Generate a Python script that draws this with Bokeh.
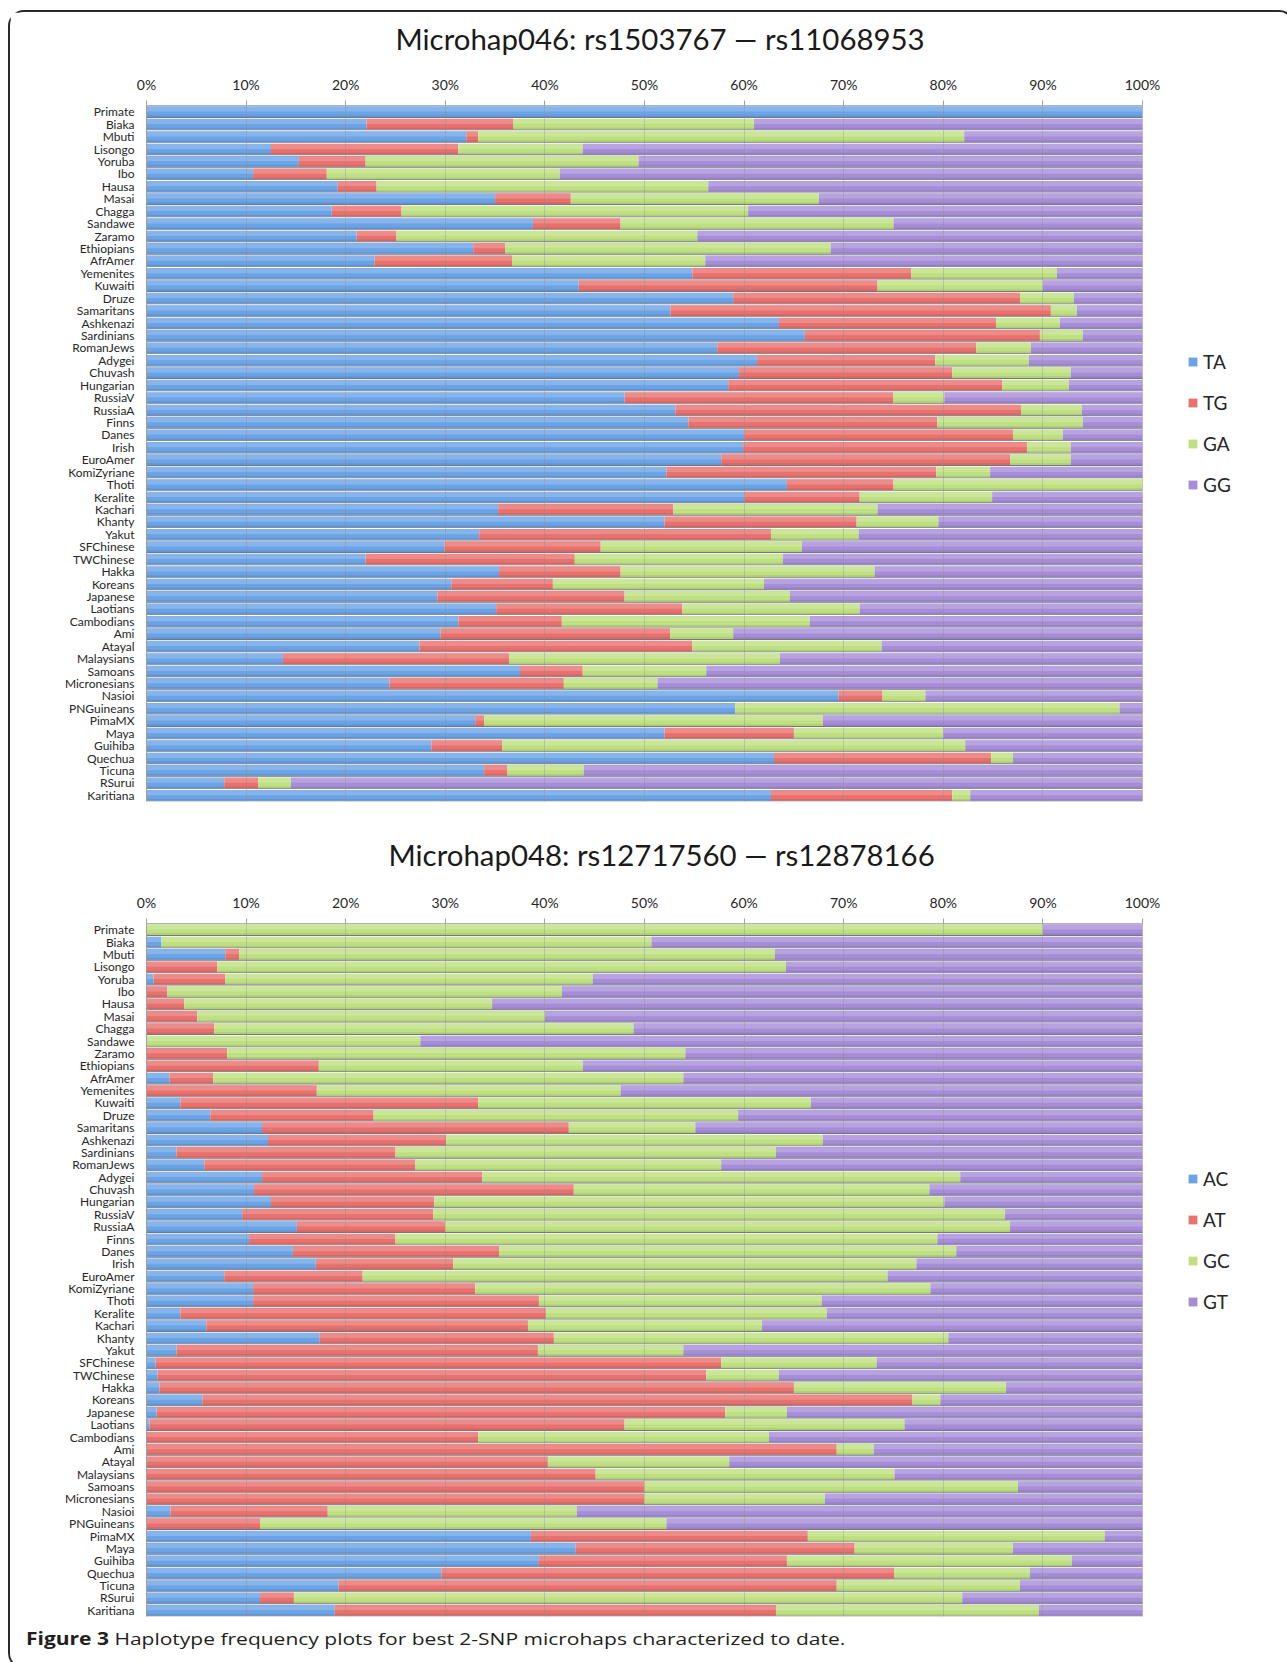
from bokeh.plotting import figure
from bokeh.models import (ColumnDataSource, FactorRange, Range1d, FixedTicker, LinearAxis,
                          PrintfTickFormatter, Legend, LegendItem, Div)
from bokeh.layouts import column
from bokeh.transform import dodge
from bokeh.embed import file_html
from bokeh.resources import INLINE

# ---------------- data ----------------
populations = ["Primate", "Biaka", "Mbuti", "Lisongo", "Yoruba", "Ibo", "Hausa", "Masai",
               "Chagga", "Sandawe", "Zaramo", "Ethiopians", "AfrAmer", "Yemenites", "Kuwaiti",
               "Druze", "Samaritans", "Ashkenazi", "Sardinians", "RomanJews", "Adygei",
               "Chuvash", "Hungarian", "RussiaV", "RussiaA", "Finns", "Danes", "Irish",
               "EuroAmer", "KomiZyriane", "Thoti", "Keralite", "Kachari", "Khanty", "Yakut",
               "SFChinese", "TWChinese", "Hakka", "Koreans", "Japanese", "Laotians",
               "Cambodians", "Ami", "Atayal", "Malaysians", "Samoans", "Micronesians",
               "Nasioi", "PNGuineans", "PimaMX", "Maya", "Guihiba", "Quechua", "Ticuna",
               "RSurui", "Karitiana"]

mh046_title = "Microhap046: rs1503767 \u2014 rs11068953"
mh046_haps = ["TA", "TG", "GA", "GG"]
mh046_TA = [100, 22.1, 32.1, 12.5, 15.3, 10.7, 19.2, 35.0, 18.6, 38.8, 21.1, 32.8, 22.9, 54.8,
            43.4, 58.9, 52.6, 63.5, 66.1, 57.3, 61.3, 59.5, 58.4, 48.0, 53.1, 54.4, 60.0, 59.9,
            57.7, 52.2, 64.3, 60.0, 35.3, 52.0, 33.4, 29.9, 22.0, 35.4, 30.6, 29.2, 35.1, 31.3,
            29.5, 27.4, 13.7, 37.5, 24.4, 69.5, 59.1, 33.0, 52.0, 28.6, 63.0, 33.9, 7.8, 62.7]
mh046_TG = [0, 14.7, 1.2, 18.8, 6.7, 7.4, 3.9, 7.6, 7.0, 8.8, 4.0, 3.2, 13.8, 22.0,
            30.0, 28.8, 38.2, 21.8, 23.6, 26.0, 17.9, 21.4, 27.5, 27.0, 34.7, 25.0, 27.0, 28.5,
            29.0, 27.1, 10.7, 11.6, 17.6, 19.3, 29.3, 15.7, 21.0, 12.2, 10.2, 18.8, 18.7, 10.4,
            23.1, 27.4, 22.7, 6.3, 17.5, 4.4, 0, 0.9, 13.0, 7.1, 21.8, 2.3, 3.4, 18.2]
mh046_GA = [0, 24.2, 48.8, 12.5, 27.4, 23.4, 33.3, 24.9, 34.8, 27.4, 30.2, 32.7, 19.4, 14.6,
            16.6, 5.4, 2.6, 6.4, 4.3, 5.5, 9.4, 11.9, 6.7, 5.1, 6.1, 14.6, 5.0, 4.4,
            6.1, 5.4, 25.0, 13.3, 20.5, 8.2, 8.8, 20.2, 20.9, 25.5, 21.2, 16.6, 17.8, 24.9,
            6.3, 19.0, 27.2, 12.4, 9.4, 4.3, 38.6, 34.0, 15.0, 46.5, 2.2, 7.7, 3.3, 1.8]
mh046_GG = [0, 39.0, 17.9, 56.2, 50.6, 58.5, 43.6, 32.5, 39.6, 25.0, 44.7, 31.3, 43.9, 8.6,
            10.0, 6.9, 6.6, 8.3, 6.0, 11.2, 11.4, 7.2, 7.4, 19.9, 6.1, 6.0, 8.0, 7.2,
            7.2, 15.3, 0, 15.1, 26.6, 20.5, 28.5, 34.2, 36.1, 26.9, 38.0, 35.4, 28.4, 33.4,
            41.1, 26.2, 36.4, 43.8, 48.7, 21.8, 2.3, 32.1, 20.0, 17.8, 13.0, 56.1, 85.5, 17.3]

mh048_title = "Microhap048: rs12717560 \u2014 rs12878166"
mh048_haps = ["AC", "AT", "GC", "GT"]
mh048_AC = [0, 1.5, 7.9, 0, 0.7, 0, 0, 0, 0, 0, 0, 0, 2.3, 0,
            3.4, 6.4, 11.6, 12.2, 3.0, 5.8, 11.6, 10.8, 12.5, 9.6, 15.1, 10.3, 14.7, 17.0,
            7.8, 10.7, 10.7, 3.4, 6.0, 17.4, 3.0, 0.9, 1.1, 1.3, 5.6, 1.0, 0.3, 0,
            0, 0, 0, 0, 0, 2.4, 0, 38.6, 43.1, 39.4, 29.6, 19.3, 11.4, 18.9]
mh048_AT = [0, 0, 1.4, 7.1, 7.2, 2.1, 3.8, 5.1, 6.8, 0, 8.1, 17.3, 4.4, 17.1,
            29.9, 16.4, 30.8, 17.9, 22.0, 21.2, 22.1, 32.1, 16.4, 19.2, 14.9, 14.7, 20.7, 13.8,
            13.9, 22.3, 28.7, 36.7, 32.3, 23.5, 36.3, 56.8, 55.1, 63.7, 71.3, 57.1, 47.7, 33.3,
            69.3, 40.3, 45.1, 50.0, 50.0, 15.8, 11.4, 27.8, 28.0, 24.9, 45.5, 50.0, 3.4, 44.3]
mh048_GC = [90.0, 49.2, 53.8, 57.1, 36.9, 39.6, 30.9, 34.9, 42.1, 27.5, 46.0, 26.5, 47.2, 30.5,
            33.4, 36.6, 12.7, 37.8, 38.2, 30.7, 48.0, 35.7, 51.2, 57.4, 56.7, 54.4, 45.9, 46.5,
            52.7, 45.7, 28.4, 28.2, 23.5, 39.6, 14.6, 15.6, 7.3, 21.3, 2.8, 6.2, 28.1, 29.2,
            3.7, 18.2, 30.0, 37.5, 18.1, 25.0, 40.8, 29.8, 15.9, 28.6, 13.6, 18.4, 67.1, 26.4]
mh048_GT = [10.0, 49.3, 36.9, 35.8, 55.2, 58.3, 65.3, 60.0, 51.1, 72.5, 45.9, 56.2, 46.1, 52.4,
            33.3, 40.6, 44.9, 32.1, 36.8, 42.3, 18.3, 21.4, 19.9, 13.8, 13.3, 20.6, 18.7, 22.7,
            25.6, 21.3, 32.2, 31.7, 38.2, 19.5, 46.1, 26.7, 36.5, 13.7, 20.3, 35.7, 23.9, 37.5,
            27.0, 41.5, 24.9, 12.5, 31.9, 56.8, 47.8, 3.8, 13.0, 7.1, 11.3, 12.3, 18.1, 10.4]

percent_ticks = [0, 10, 20, 30, 40, 50, 60, 70, 80, 90, 100]
hap_colors = ["#6AA3E6", "#E8706D", "#BEE080", "#A68DD8"]
caption_bold = "Figure 3"
caption_text = "Haplotype frequency plots for best 2-SNP microhaps characterized to date."

# ---------------- layout constants ----------------
FONT = "Lato"
W = 1273
FRAME_L = 136          # pixel position of 0 %
FRAME_R = 1132         # pixel position of 100 %
X_END = 100.0 * (W - FRAME_L) / (FRAME_R - FRAME_L)


def make_panel(title, haps, series, height, top_border, frame_h, title_offset, gap,
               legend_loc):
    data = {"pop": populations}
    for h, s in zip(haps, series):
        data[h] = s
    data["total"] = [sum(v) for v in zip(*series)]
    src = ColumnDataSource(data)

    p = figure(width=W, height=height,
               y_range=FactorRange(factors=populations[::-1], range_padding=0),
               x_range=Range1d(0, X_END), x_axis_location="above",
               output_backend="svg", toolbar_location=None,
               min_border_left=FRAME_L, min_border_right=0,
               min_border_top=top_border,
               min_border_bottom=height - top_border - frame_h)
    p.outline_line_color = None
    p.background_fill_color = "white"
    p.border_fill_color = "white"

    # title
    p.title.text = title
    p.title.align = "left"
    p.title.offset = title_offset
    p.title.standoff = 0
    p.title.text_font = FONT
    p.title.text_font_size = "29.4px"
    p.title.text_font_style = "normal"
    p.title.text_color = "#1a1a1a"

    # stacked bars
    rends = p.hbar_stack(haps, y="pop", height=0.86, fill_color=hap_colors,
                         line_color=None, source=src)
    # glossy highlight / shading like the original Excel bars
    p.hbar(y=dodge("pop", 0.21, range=p.y_range), left=0, right="total", height=0.40,
           fill_color="white", fill_alpha=0.20, line_color=None, source=src)
    p.hbar(y=dodge("pop", -0.36, range=p.y_range), left=0, right="total", height=0.14,
           fill_color="black", fill_alpha=0.08, line_color=None, source=src)
    p.hbar(y=dodge("pop", -0.465, range=p.y_range), left=0, right="total", height=0.07,
           fill_color="#4a4a5a", fill_alpha=0.75, line_color=None, source=src)

    # x axis (top)
    xa = p.xaxis[0]
    xa.ticker = FixedTicker(ticks=percent_ticks)
    xa.formatter = PrintfTickFormatter(format="%d%%")
    xa.bounds = (0, 100)
    xa.axis_line_color = "#b0b0b0"
    xa.major_tick_line_color = "#a0a0a0"
    xa.major_tick_out = 5
    xa.major_tick_in = 0
    xa.minor_tick_line_color = None
    xa.major_label_standoff = 8
    xa.major_label_text_font = FONT
    xa.major_label_text_font_size = "14px"
    xa.major_label_text_color = "#262626"

    # empty spacer axis between the tick labels and the title
    spacer = LinearAxis(axis_label=" ", ticker=FixedTicker(ticks=[]),
                        axis_line_color=None, major_tick_line_color=None,
                        minor_tick_line_color=None, major_tick_out=0, major_tick_in=0,
                        minor_tick_out=0, minor_tick_in=0, major_label_text_font_size="0px",
                        major_label_standoff=0, axis_label_standoff=gap,
                        axis_label_text_font_size="1px")
    p.add_layout(spacer, "above")

    # y axis (categories)
    ya = p.yaxis[0]
    ya.axis_line_color = "#a0a0a0"
    ya.major_tick_line_color = None
    ya.minor_tick_line_color = None
    ya.major_label_standoff = 6
    ya.major_label_text_font = FONT
    ya.major_label_text_font_size = "12px"
    ya.major_label_text_color = "#262626"

    # grid
    p.ygrid.grid_line_color = None
    p.xgrid.ticker = FixedTicker(ticks=percent_ticks)
    p.xgrid.grid_line_color = "#8c8c8c"
    p.xgrid.grid_line_alpha = 0.35
    p.xgrid.level = "overlay"

    legend = Legend(items=[LegendItem(label=h, renderers=[r]) for h, r in zip(haps, rends)],
                    location=legend_loc, orientation="vertical",
                    glyph_width=11, glyph_height=11, label_standoff=5,
                    label_text_font=FONT, label_text_font_size="19px",
                    label_text_color="#262626", label_height=20,
                    spacing=18, padding=0, margin=0,
                    border_line_color=None, background_fill_alpha=0)
    p.add_layout(legend)
    return p


p1 = make_panel(mh046_title, mh046_haps, [mh046_TA, mh046_TG, mh046_GA, mh046_GG],
                height=806, top_border=93, frame_h=696, title_offset=249, gap=13,
                legend_loc=(1041, 305))
p2 = make_panel(mh048_title, mh048_haps, [mh048_AC, mh048_AT, mh048_GC, mh048_GT],
                height=802, top_border=105, frame_h=693, title_offset=242, gap=15,
                legend_loc=(1041, 303))

cap = Div(text=('<div style="font-family:\'Open Sans\';font-size:17px;color:#231f20;'
                'margin-left:11px;margin-top:1px;line-height:26px;white-space:nowrap;'
                'display:inline-block;transform:scaleX(1.235);transform-origin:0 50%">'
                f'<b>{caption_bold}</b> {caption_text}</div>'),
          width=W, height=37)

layout = column(p1, p2, cap, margin=(10, 0, 0, 8),
                styles={"border": "2px solid #2a2a2a", "border-radius": "16px",
                        "background-color": "white"})

open("out.html", "w").write(file_html(layout, INLINE))
